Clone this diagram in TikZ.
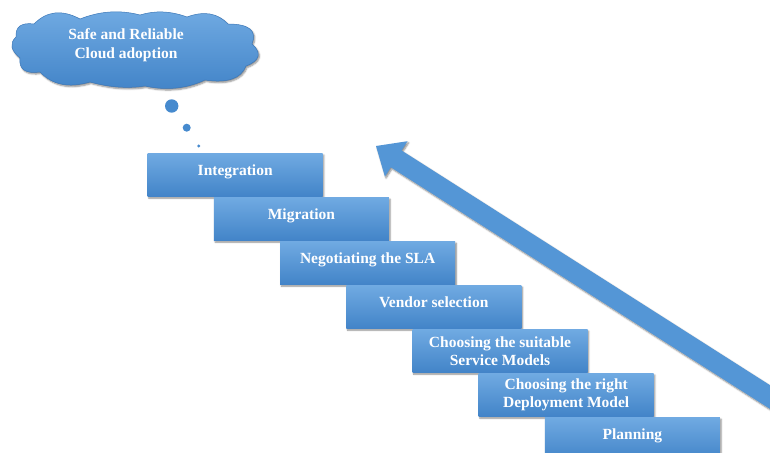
\documentclass[tikz,border=0pt]{standalone}
\usepackage{fontspec}
\setmainfont{Liberation Serif}
\usetikzlibrary{shadows.blur}
\definecolor{boxtop}{RGB}{112,170,226}
\definecolor{boxbot}{RGB}{66,132,200}
\definecolor{arrowblue}{RGB}{84,150,214}
\definecolor{bubble}{RGB}{70,138,206}
\definecolor{cloudedge}{RGB}{60,120,185}
\tikzset{
  softshadow/.style={blur shadow={shadow xshift=1.2pt, shadow yshift=-1.6pt, shadow blur steps=5, shadow blur radius=1.6pt, shadow opacity=45}},
  stepbox/.style={anchor=north west, minimum width=175pt, minimum height=43pt, inner sep=0pt,
    top color=boxtop, bottom color=boxbot, draw=none, softshadow,
    text=white, font=\bfseries\fontsize{15.5}{18.5}\selectfont, align=center},
  oneline/.style={text height=10.2pt, text depth=9.4pt},
  cloudtxt/.style={text=white, font=\bfseries\fontsize{15.5}{18.5}\selectfont, align=center, inner sep=0pt},
  cloudfill/.style={top color=boxtop, bottom color=boxbot, draw=cloudedge, line width=0.5pt, softshadow},
  dot/.style={circle, fill=bubble, inner sep=0pt},
}
\begin{document}
\begin{tikzpicture}[x=1pt,y=-1pt]
\useasboundingbox (0,0) rectangle (770,452);
\clip (0,0) rectangle (770,452);
% arrow
\fill[arrowblue, softshadow] (376,146) -- (407.5,141.2) -- (401.6,150.5) -- (873.9,451.4)
  -- (863.1,468.2) -- (390.8,167.3) -- (384.9,176.6) -- cycle;
% cloud
\path[cloudfill] (16,37)
  .. controls (15.3,26.7) and (21.3,22.3) .. (34,24)
  .. controls (46.7,11) and (62,9.3) .. (80,19)
  .. controls (100,11) and (120,9.7) .. (140,15)
  .. controls (155,10.3) and (170.7,11) .. (187,17)
  .. controls (204,10.7) and (217.7,13) .. (228,24)
  .. controls (249.3,24) and (257.3,30.7) .. (252,44)
  .. controls (262,52.7) and (260,60.7) .. (246,66)
  .. controls (241,78.7) and (227.3,83.3) .. (205,80)
  .. controls (186.3,88.7) and (166.3,90.7) .. (145,86)
  .. controls (127.3,88.7) and (109.7,87.3) .. (90,82)
  .. controls (69.3,88) and (52.7,85.3) .. (40,72)
  .. controls (25.3,74) and (18.7,69.3) .. (20,58)
  .. controls (10.7,50.3) and (9.3,43.3) .. (16,37) -- cycle;
\node[cloudtxt] (cloudtext) at (126,45) {Safe and Reliable\\Cloud adoption};
% thought bubbles
\node[dot, minimum size=13.4pt] (b1) at (171.7,106) {};
\node[dot, minimum size=8pt] (b2) at (186.7,127.7) {};
\node[dot, minimum size=3.4pt] (b3) at (198.7,146) {};
% steps
\node[stepbox, oneline] (s1) at (147.5,153.3) {Integration};
\node[stepbox, oneline] (s2) at (213.7,197.3) {Migration};
\node[stepbox, oneline] (s3) at (279.9,241.3) {Negotiating the SLA};
\node[stepbox, oneline] (s4) at (346.1,285.3) {Vendor selection};
\node[stepbox] (s5) at (412.3,329.3) {Choosing the suitable\\Service Models};
\node[stepbox] (s6) at (478.5,373.3) {Choosing the right\\Deployment Model};
\node[stepbox, oneline] (s7) at (544.7,417.3) {Planning};
\end{tikzpicture}
\end{document}
